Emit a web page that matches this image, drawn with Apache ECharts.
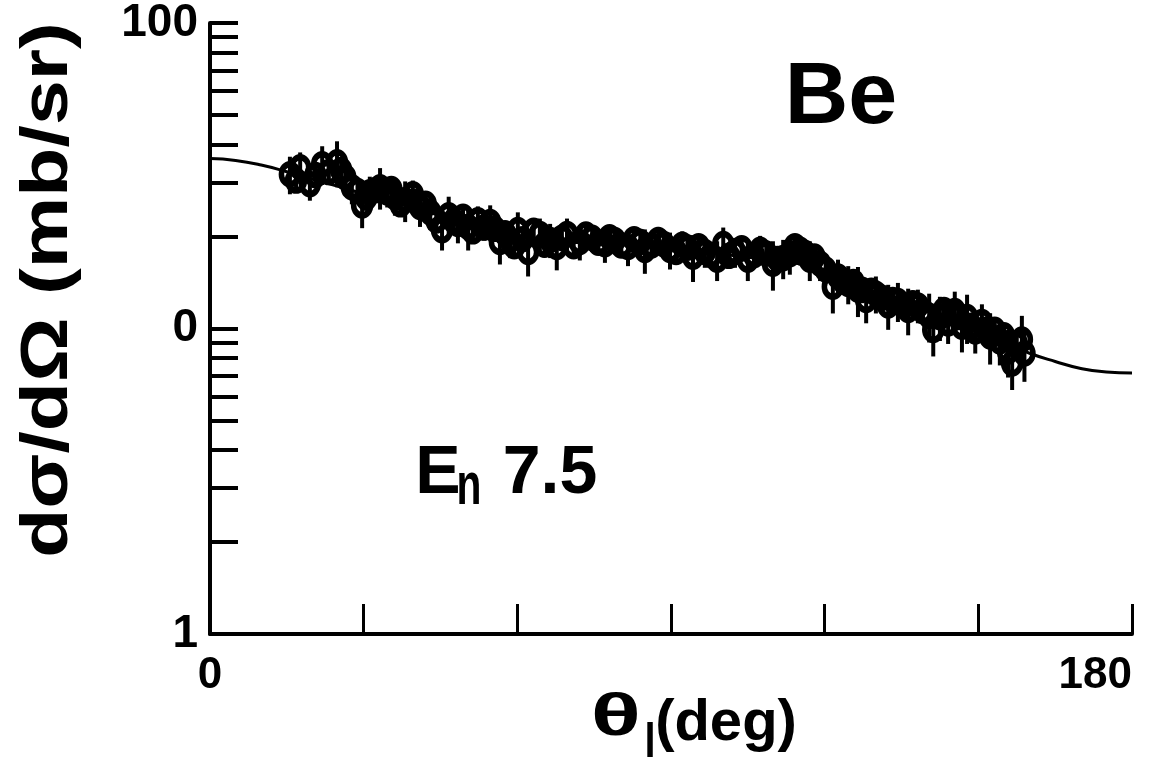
<!DOCTYPE html>
<html><head><meta charset="utf-8">
<script src="https://cdn.jsdelivr.net/npm/echarts@6/dist/echarts.min.js"></script>
<style>html,body{margin:0;padding:0;background:#fff}#c{width:1150px;height:767px}</style>
</head><body><div id="c"></div>
<script>
// Measured data points, set A (angle in deg, dσ/dΩ in mb/sr, error in mb/sr)
const angles = [15.6,17.6,19.5,21.9,24.8,26.4,27.7,29.7,31.2,33.2,34.6,36.1,38.1,39.6,41.0,43.0,45.3,46.6,48.4,50.4,52.3,54.7,56.6,58.6,60.1,62.1,64.4,66.4,67.7,69.7,72.2,74.6,77.1,79.0,81.6,84.0,84.9,87.5,89.8,92.2,94.3,96.6,99.0,100.2,102.5,105.0,107.4,109.9,111.9,113.2,115.2,117.1,119.1,121.6,122.6,124.6,126.5,128.1,130.0,132.4,134.3,136.3,138.2,140.4,141.2,142.5,144.1,145.4,146.8,147.8,149.4,150.7,152.3,154.2,155.8,156.6,158.5,159.0];
const crossSections = [32.0,33.7,29.7,34.5,35.0,31.3,29.0,25.3,27.9,29.0,27.9,26.9,26.3,27.5,25.0,24.0,21.0,23.5,22.0,21.5,22.6,22.3,19.2,19.5,21.0,17.8,20.4,19.5,18.5,20.4,19.2,19.8,18.9,19.5,18.5,19.2,18.1,19.5,18.1,18.8,17.2,17.8,16.8,18.9,17.8,16.8,18.1,16.3,17.0,17.5,18.1,16.8,16.3,13.7,14.8,14.0,13.4,12.4,13.0,11.9,12.3,11.5,11.9,11.0,9.9,10.9,10.4,11.4,10.15,10.9,9.78,10.5,9.42,9.07,8.41,7.69,9.2,8.29];
const errors = [4.5,4.0,3.5,5.0,6.0,4.0,3.5,4.0,3.5,4.5,3.0,3.5,4.0,3.0,3.5,3.0,3.0,3.5,3.0,3.5,2.5,3.0,3.0,2.5,3.0,3.0,2.5,2.5,3.0,2.5,2.5,2.0,2.5,2.0,2.5,2.0,3.0,2.0,2.5,2.0,3.0,2.0,2.5,2.5,2.0,2.5,2.0,3.0,2.5,2.5,2.0,2.5,2.0,2.5,2.0,2.0,2.5,2.0,1.8,2.0,1.8,2.0,1.5,2.0,1.8,1.8,1.5,1.8,1.8,2.0,1.5,1.5,1.8,1.5,1.5,1.4,1.8,1.6];

// Measured data points, set B
const anglesB = [16.8,20.6,23.2,25.6,28.8,30.5,32.4,35.4,37.2,40.3,42.1,44.2,47.6,49.4,51.3,53.5,55.6,57.6,59.4,61.0,63.2,65.3,68.7,71.0,73.4,75.8,78.0,80.3,82.8,86.2,88.6,91.0,93.2,95.4,97.8,101.3,103.8,106.2,108.6,110.8,114.2,116.1,118.0,120.2,123.6,125.6,127.3,129.1,131.2,133.3,135.3,137.2,139.2,143.3,146.1,148.6,151.5,153.2,155.0,157.5];
const crossSectionsB = [30.5,31.8,32.5,33.0,28.2,26.8,28.4,28.6,25.5,26.0,25.6,22.6,22.5,23.2,20.8,21.4,21.2,20.5,18.6,19.6,20.9,18.8,19.8,18.6,20.3,19.1,19.9,18.7,19.6,18.7,18.9,17.8,18.4,18.6,17.4,17.3,18.3,17.4,17.6,16.9,18.6,17.7,17.2,15.6,14.3,14.2,13.4,13.3,12.6,12.4,11.9,12.1,11.4,11.5,10.9,10.2,9.9,9.9,9.5,8.9];
const errorsB = [2.5,2.8,3.0,2.6,2.4,2.2,2.6,2.3,2.2,2.4,2.0,2.1,2.0,2.2,1.9,2.0,1.8,2.0,1.7,1.8,2.0,1.7,1.9,1.7,1.9,1.7,1.8,1.6,1.8,1.7,1.6,1.6,1.7,1.6,1.5,1.6,1.7,1.5,1.6,1.5,1.7,1.5,1.5,1.4,1.4,1.3,1.3,1.3,1.2,1.2,1.1,1.2,1.1,1.1,1.0,1.0,0.9,1.0,0.9,0.9];

// Calculated curve
const curveAngles = [0,5,10,15,20,25,30,35,40,45,50,55,60,65,70,75,80,85,90,95,100,105,110,115,120,125,130,135,140,145,150,155,160,165,170,175,180];
const curveValues = [36.0,35.5,34.3,32.6,30.8,29.2,27.6,26.2,24.8,23.4,22.0,21.0,20.2,19.6,19.2,19.0,18.8,18.6,18.3,17.9,17.5,17.1,16.7,16.3,15.6,14.6,13.5,12.4,11.4,10.5,9.7,9.0,8.3,7.8,7.4,7.2,7.15];

// Tick labels
const xTickValues = [0, 180];
const xTickLabels = ['0', '180'];
const yTickValues = [1, 10, 100];
const yTickLabels = ['1', '0', '100'];
const yTickMarks = [1,2,3,4,5,6,7,8,9,10,20,30,40,50,60,70,80,90,100];

const FONT = '"Liberation Sans", Arial, Helvetica, sans-serif';

const pointsA = angles.map((a, i) => [a, crossSections[i]]);
const pointsB = anglesB.map((a, i) => [a, crossSectionsB[i]]);
const barsA = angles.map((a, i) => [a, crossSections[i] - errors[i], crossSections[i] + errors[i]]);
const barsB = anglesB.map((a, i) => [a, crossSectionsB[i] - errorsB[i], crossSectionsB[i] + errorsB[i]]);
const curve = curveAngles.map((a, i) => [a, curveValues[i]]);

const renderBar = (params, api) => {
  const x = api.value(0);
  const lo = api.coord([x, api.value(1)]);
  const hi = api.coord([x, api.value(2)]);
  return { type: 'line', shape: { x1: lo[0], y1: lo[1], x2: hi[0], y2: hi[1] }, style: { stroke: '#000', lineWidth: 4 } };
};
const circleStyle = { color: 'rgba(0,0,0,0)', borderColor: '#000', borderWidth: 6, opacity: 1 };
const txt = (text, x, y, size, extra) => Object.assign({ type: 'text', x: x, y: y, style: { text: text, fontFamily: FONT, fontWeight: 'bold', fontSize: size, fill: '#000', textAlign: 'center', textVerticalAlign: 'middle' } }, extra || {});

const chart = echarts.init(document.getElementById('c'));
chart.setOption({
  animation: false,
  backgroundColor: '#fff',
  grid: { left: 210, right: 18, top: 20, bottom: 133 },
  xAxis: {
    type: 'value', min: 0, max: 180, interval: 30,
    axisLine: { show: true, lineStyle: { color: '#000', width: 4 } },
    axisTick: { show: true, inside: true, length: 30, lineStyle: { color: '#000', width: 3 } },
    splitLine: { show: false },
    axisLabel: {
      color: '#000', fontFamily: FONT, fontWeight: 'bold', fontSize: 44, margin: 20,
      alignMaxLabel: 'right',
      formatter: v => { const k = xTickValues.indexOf(v); return k >= 0 ? xTickLabels[k] : ''; }
    }
  },
  yAxis: {
    type: 'log', logBase: 10, min: 1, max: 100,
    axisLine: { show: true, lineStyle: { color: '#000', width: 4 } },
    axisTick: { show: true, inside: true, length: 28, customValues: yTickMarks, lineStyle: { color: '#000', width: 4 } },
    minorTick: { show: false },
    splitLine: { show: false },
    axisLabel: {
      color: '#000', fontFamily: FONT, fontWeight: 'bold', fontSize: 46, margin: 12,
      customValues: yTickValues,
      formatter: v => { const k = yTickValues.findIndex(t => Math.abs(t - v) < 1e-6 * t); return k >= 0 ? yTickLabels[k] : ''; }
    }
  },
  graphic: [
    txt('Be', 841, 99, 88),
    txt('E', 438, 474, 68),
    txt('n', 469, 487, 48, { scaleX: 0.85, scaleY: 1.25 }),
    txt('7.5', 550, 474, 68),
    txt('dσ/dΩ (mb/sr)', 49, 290, 66, { rotation: Math.PI / 2, scaleX: 1.22 }),
    txt('θ', 616, 718, 60, { scaleX: 1.55 }),
    txt('l', 650, 744, 40, { scaleY: 1.2 }),
    txt('(deg)', 726, 724, 58)
  ],
  series: [
    { type: 'line', data: curve, smooth: true, showSymbol: false, symbol: 'none', lineStyle: { color: '#000', width: 3 }, z: 2 },
    { type: 'custom', data: barsA, encode: { x: 0, y: [1, 2] }, z: 3, renderItem: renderBar },
    { type: 'custom', data: barsB, encode: { x: 0, y: [1, 2] }, z: 3, renderItem: renderBar },
    { type: 'scatter', data: pointsA, symbol: 'circle', symbolSize: [17, 20], z: 4, itemStyle: circleStyle },
    { type: 'scatter', data: pointsB, symbol: 'circle', symbolSize: [17, 20], z: 4, itemStyle: circleStyle }
  ]
});
</script>
</body></html>
